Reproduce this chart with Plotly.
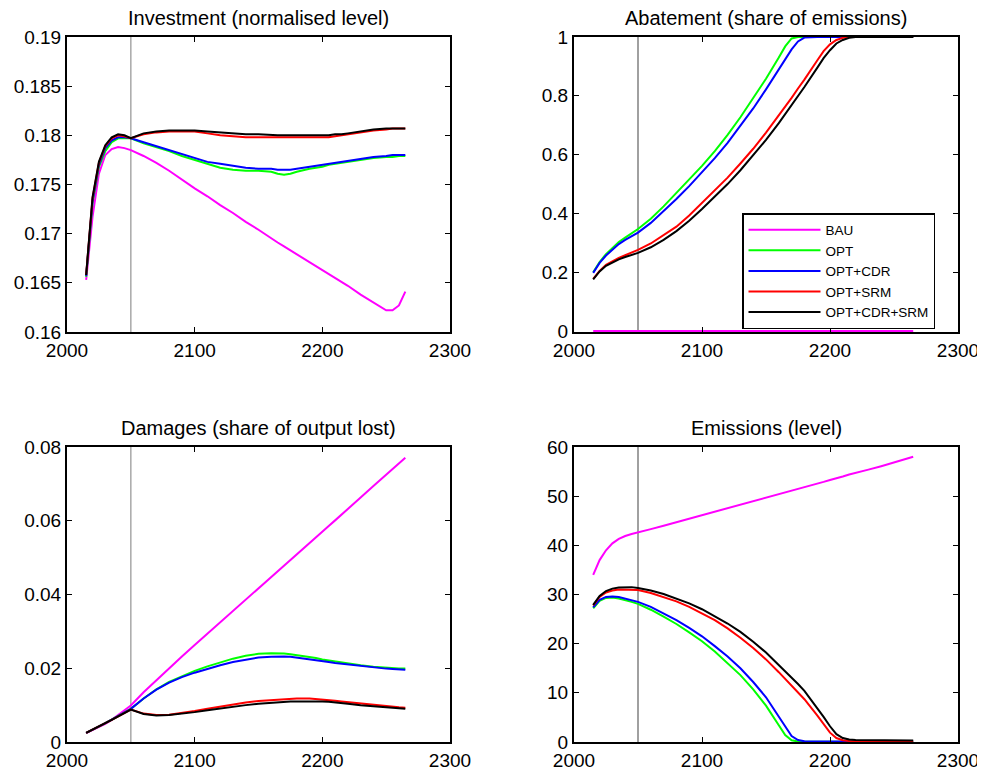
import plotly.graph_objects as go

YEARS = [2015, 2020, 2025, 2030, 2035, 2040, 2045, 2050, 2060, 2070, 2080, 2090,
         2100, 2110, 2120, 2130, 2140, 2150, 2160, 2165, 2170, 2175, 2180, 2190,
         2195, 2200, 2205, 2210, 2215, 2220, 2230, 2240, 2250, 2255, 2260, 2265]

SCENARIOS = ["BAU", "OPT", "OPT+CDR", "OPT+SRM", "OPT+CDR+SRM"]

# Investment (normalised level)
INV_BAU = [.1653, .1717, .1761, .1780, .1786, .1788, .1787, .1785, .1779, .1772, .1764, .1755,
           .1746, .1738, .1729, .1721, .1712, .1704, .1695, .1691, .1687, .1683, .1679, .1671,
           .1667, .1663, .1659, .1655, .1651, .1647, .1638, .1630, .1622, .1622, .1627, .1641]
INV_OPT = [.1656, .1731, .1768, .1784, .1793, .1797, .1797, .1797, .1792, .1788, .1784, .1779,
           .1775, .1771, .1767, .1765, .1764, .1764, .1763, .1761, .1760, .1761, .1763, .1766,
           .1767, .1768, .1770, .1771, .1772, .1773, .1775, .1777, .1778, .1778, .1779, .1779]
INV_CDR = [.1657, .1733, .1770, .1787, .1795, .1798, .1798, .1797, .1793, .1789, .1785, .1781,
           .1777, .1773, .1771, .1769, .1767, .1766, .1766, .1765, .1765, .1765, .1766, .1768,
           .1769, .1770, .1771, .1772, .1773, .1774, .1776, .1778, .1779, .1780, .1780, .1780]
INV_SRM = [.1658, .1736, .1772, .1789, .1797, .1800, .1799, .1797, .1801, .1803, .1804, .1804,
           .1804, .1802, .1800, .1799, .1798, .1798, .1798, .1798, .1798, .1798, .1798, .1798,
           .1798, .1798, .1798, .1799, .1800, .1801, .1803, .1805, .1806, .1807, .1807, .1807]
INV_ALL = [.1658, .1737, .1773, .1790, .1798, .1801, .1800, .1797, .1802, .1804, .1805, .1805,
           .1805, .1804, .1803, .1802, .1801, .1801, .1800, .1800, .1800, .1800, .1800, .1800,
           .1800, .1800, .1800, .1801, .1801, .1802, .1804, .1806, .1807, .1807, .1807, .1807]

# Abatement (share of emissions)
ABT_BAU = [0.0] * 36
ABT_OPT = [.200, .235, .262, .284, .303, .318, .332, .347, .382, .424, .470, .515,
           .562, .612, .667, .727, .792, .858, .930, .968, .995, 1.0, 1.0, 1.0,
           1.0, 1.0, 1.0, 1.0, 1.0, 1.0, 1.0, 1.0, 1.0, 1.0, 1.0, 1.0]
ABT_CDR = [.198, .232, .257, .278, .296, .310, .322, .335, .368, .407, .449, .493,
           .540, .588, .640, .697, .757, .822, .890, .925, .958, .985, .998, 1.0,
           1.0, 1.0, 1.0, 1.0, 1.0, 1.0, 1.0, 1.0, 1.0, 1.0, 1.0, 1.0]
ABT_SRM = [.178, .205, .225, .238, .249, .258, .267, .276, .298, .325, .355, .393,
           .435, .478, .522, .570, .620, .675, .733, .763, .793, .825, .855, .920,
           .952, .975, .990, .997, 1.0, 1.0, 1.0, 1.0, 1.0, 1.0, 1.0, 1.0]
ABT_ALL = [.176, .203, .222, .234, .244, .252, .259, .266, .285, .310, .340, .375,
           .415, .457, .500, .547, .597, .650, .707, .737, .767, .797, .830, .895,
           .928, .955, .978, .990, .997, 1.0, 1.0, 1.0, 1.0, 1.0, 1.0, 1.0]

# Damages (share of output lost)
DMG_BAU = [.0024, .0032, .0040, .0049, .0060, .0073, .0086, .0099, .0135, .0168, .0200, .0232,
           .0263, .0294, .0325, .0355, .0386, .0417, .0448, .0463, .0478, .0494, .0509, .0540,
           .0555, .0571, .0586, .0601, .0617, .0632, .0663, .0694, .0725, .0740, .0756, .0771]
DMG_OPT = [.0025, .0033, .0042, .0051, .0061, .0071, .0081, .0090, .0118, .0143, .0163, .0179,
           .0193, .0205, .0216, .0226, .0234, .0239, .0241, .0241, .0240, .0238, .0236, .0231,
           .0228, .0224, .0221, .0218, .0215, .0213, .0208, .0204, .0201, .0200, .0199, .0199]
DMG_CDR = [.0025, .0033, .0042, .0051, .0061, .0071, .0081, .0090, .0118, .0142, .0161, .0176,
           .0188, .0199, .0208, .0217, .0224, .0229, .0231, .0232, .0232, .0231, .0229, .0225,
           .0223, .0220, .0217, .0214, .0212, .0210, .0206, .0202, .0199, .0198, .0197, .0196]
DMG_SRM = [.0025, .0033, .0042, .0051, .0060, .0070, .0080, .0088, .0077, .0073, .0074, .0078,
           .0084, .0090, .0096, .0102, .0107, .0111, .0114, .0115, .0116, .0117, .0118, .0118,
           .0117, .0116, .0114, .0112, .0110, .0108, .0104, .0100, .0097, .0095, .0094, .0093]
DMG_ALL = [.0025, .0033, .0042, .0051, .0060, .0070, .0080, .0088, .0076, .0072, .0073, .0076,
           .0081, .0086, .0091, .0096, .0100, .0104, .0107, .0108, .0109, .0110, .0110, .0111,
           .0111, .0110, .0109, .0108, .0106, .0104, .0100, .0097, .0094, .0092, .0091, .0090]

# Emissions (level)
EMI_BAU = [34.0, 37.0, 39.0, 40.4, 41.3, 41.9, 42.3, 42.6, 43.3, 44.0, 44.7, 45.4,
           46.1, 46.8, 47.5, 48.2, 48.9, 49.6, 50.3, 50.7, 51.0, 51.4, 51.8, 52.5,
           52.9, 53.3, 53.6, 54.0, 54.4, 54.7, 55.4, 56.1, 56.8, 57.2, 57.6, 58.0]
EMI_OPT = [27.2, 28.7, 29.3, 29.4, 29.2, 28.9, 28.5, 28.1, 26.9, 25.5, 24.0, 22.3,
           20.5, 18.4, 16.1, 13.6, 10.7, 7.4, 3.4, 1.4, 0.35, 0.1, 0.05, 0.05,
           0.05, 0.05, 0.05, 0.05, 0.05, 0.05, 0.05, 0.05, 0.05, 0.05, 0.05, 0.05]
EMI_CDR = [27.4, 28.9, 29.5, 29.6, 29.5, 29.2, 28.9, 28.5, 27.5, 26.2, 24.8, 23.2,
           21.5, 19.5, 17.4, 15.0, 12.2, 9.1, 5.2, 3.0, 1.2, 0.4, 0.15, 0.1,
           0.1, 0.1, 0.1, 0.1, 0.1, 0.1, 0.1, 0.1, 0.1, 0.1, 0.1, 0.1]
EMI_SRM = [27.8, 29.5, 30.4, 30.8, 31.0, 31.0, 31.0, 30.9, 30.3, 29.5, 28.6, 27.5,
           26.2, 24.8, 23.1, 21.2, 19.1, 16.8, 14.2, 12.8, 11.5, 10.2, 8.7, 5.4,
           3.6, 1.9, 0.8, 0.35, 0.2, 0.15, 0.12, 0.12, 0.12, 0.12, 0.12, 0.12]
EMI_ALL = [27.9, 29.7, 30.7, 31.2, 31.4, 31.5, 31.5, 31.3, 30.8, 30.1, 29.2, 28.2,
           27.0, 25.6, 24.1, 22.4, 20.4, 18.2, 15.7, 14.4, 13.1, 11.8, 10.4, 7.0,
           5.1, 3.2, 1.6, 0.8, 0.5, 0.4, 0.35, 0.3, 0.3, 0.3, 0.3, 0.3]

PANELS = [
    ("Investment (normalised level)", [INV_BAU, INV_OPT, INV_CDR, INV_SRM, INV_ALL], [0.16, 0.19], 0.005),
    ("Abatement (share of emissions)", [ABT_BAU, ABT_OPT, ABT_CDR, ABT_SRM, ABT_ALL], [-0.003, 1], 0.2),
    ("Damages (share of output lost)", [DMG_BAU, DMG_OPT, DMG_CDR, DMG_SRM, DMG_ALL], [0, 0.08], 0.02),
    ("Emissions (level)", [EMI_BAU, EMI_OPT, EMI_CDR, EMI_SRM, EMI_ALL], [0, 60], 10),
]
REF_YEAR = 2050
COLORS = ["#ff00ff", "#00ff00", "#0000ff", "#ff0000", "#000000"]

W, H = 985, 775
OFF = 8  # page body margin
def px_x(p):
    return (p - OFF) / W
def px_y(p):
    return 1 - (p - OFF) / H

XDOM = [(px_x(67), px_x(450)), (px_x(574), px_x(958))]
YDOM = [(px_y(332), px_y(37)), (px_y(742), px_y(447))]
FONT = "Liberation Sans, Arial, Helvetica, sans-serif"

fig = go.Figure()
layout = dict(
    width=W, height=H, margin=dict(l=0, r=0, t=0, b=0, autoexpand=False),
    paper_bgcolor="white", plot_bgcolor="white",
    font=dict(family=FONT, size=19, color="black"),
    showlegend=True,
    legend=dict(x=px_x(742), y=px_y(213), xanchor="left", yanchor="top",
                bordercolor="black", borderwidth=1.5, bgcolor="white",
                font=dict(size=13.5, family=FONT), tracegroupgap=0,
                itemwidth=72),
)
annotations = []
shapes = []
for i, (title, series, yr, dt) in enumerate(PANELS):
    col, row = i % 2, i // 2
    k = "" if i == 0 else str(i + 1)
    xa, ya = "x" + k, "y" + k
    for j, (name, vals) in enumerate(zip(SCENARIOS, series)):
        fig.add_trace(go.Scatter(
            x=YEARS, y=vals, mode="lines", name=name,
            line=dict(color=COLORS[j], width=2),
            xaxis=xa, yaxis=ya, showlegend=(i == 1),
        ))
    axcommon = dict(showgrid=False, zeroline=False, showline=True, linecolor="black",
                    linewidth=2, mirror="ticks", ticks="inside", ticklen=5,
                    tickwidth=1, tickcolor="black", automargin=False,
                    tickfont=dict(size=19, family=FONT))
    layout["xaxis" + k] = dict(domain=XDOM[col], anchor=ya, range=[2000, 2300],
                               tickvals=[2000, 2100, 2200, 2300], **axcommon)
    layout["yaxis" + k] = dict(domain=YDOM[row], anchor=xa, range=yr, dtick=dt,
                               tick0=0, **axcommon)
    annotations.append(dict(text=title, xref="paper", yref="paper",
                            x=(XDOM[col][0] + XDOM[col][1]) / 2, y=YDOM[row][1],
                            yshift=6, xanchor="center", yanchor="bottom",
                            showarrow=False, font=dict(size=20, family=FONT)))
    shapes.append(dict(type="line", xref=xa, yref=ya + " domain", x0=REF_YEAR, x1=REF_YEAR,
                       y0=0, y1=1, line=dict(color="#a8a8a8" if col == 0 else "#808080", width=1.5),
                       layer="below"))
layout["annotations"] = annotations
layout["shapes"] = shapes
fig.update_layout(**layout)
fig.write_html("out.html")
